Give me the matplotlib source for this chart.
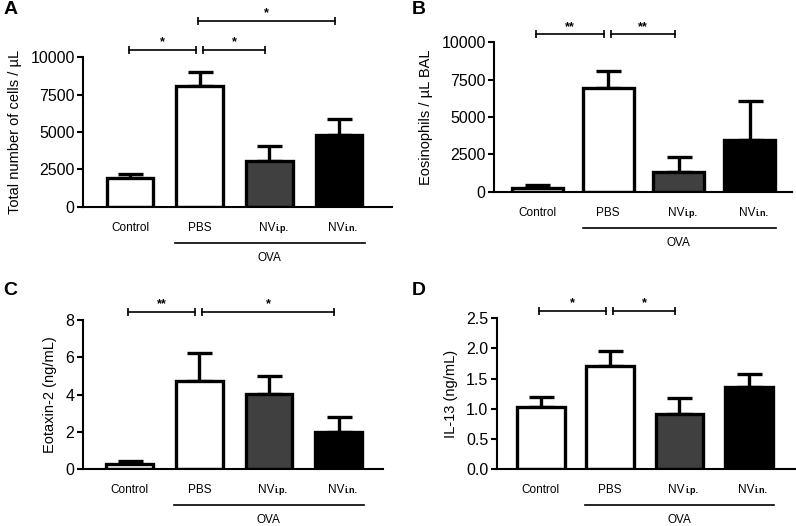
import matplotlib
matplotlib.use("Agg")
import matplotlib.pyplot as plt
import matplotlib.transforms as mtransforms

plt.rcParams['font.family'] = ['Liberation Sans', 'DejaVu Sans']

# ---- data ----
groups = ['Control', 'PBS', 'NV', 'NV']
group_suffix = ['', '', 'i.p.', 'i.n.']
bar_colors = ['white', 'white', '#404040', 'black']

total_cells = [1950, 8050, 3080, 4780]
total_cells_sem = [250, 950, 980, 1100]

eosinophils = [230, 6950, 1350, 3450]
eosinophils_sem = [250, 1100, 950, 2600]

eotaxin2 = [0.30, 4.72, 4.05, 2.0]
eotaxin2_sem = [0.15, 1.5, 0.95, 0.8]

il13 = [1.02, 1.71, 0.91, 1.355]
il13_sem = [0.18, 0.25, 0.27, 0.215]

# significance comparisons: (group i, group j, label, bracket height)
sig_a = [(0, 1, '*', 10500), (1, 2, '*', 10500), (1, 3, '*', 12400)]
sig_b = [(0, 1, '**', 10550), (1, 2, '**', 10550)]
sig_c = [(0, 1, '**', 8.45), (1, 3, '*', 8.45)]
sig_d = [(0, 1, '*', 2.62), (1, 2, '*', 2.62)]

fig = plt.figure(figsize=(7.96, 5.26), dpi=100)


def panel(rect, values, errs, ylabel, yticks, ytlabels, sigs, letter, letter_xy,
          xlim, width):
    ax = fig.add_axes(rect)
    x = list(range(len(groups)))
    ax.bar(x, values, width=width, color=bar_colors, edgecolor='black',
           linewidth=2.4, zorder=2)
    # upper-only error bars
    ax.errorbar(x, values, yerr=[[0] * len(errs), errs], fmt='none',
                ecolor='black', elinewidth=2.4, capsize=9, capthick=2.4, zorder=1)
    ax.set_xlim(*xlim)
    ax.set_ylim(yticks[0], yticks[-1])
    ax.set_yticks(yticks)
    ax.set_yticklabels(ytlabels, fontsize=11.5)
    ax.set_xticks(x)
    ax.set_xticklabels([])
    ax.tick_params(axis='x', length=0)
    ax.tick_params(axis='y', length=4, width=1.5, pad=2)
    ax.set_ylabel(ylabel, fontsize=10.5, labelpad=6)
    for s in ['top', 'right']:
        ax.spines[s].set_visible(False)
    for s in ['left', 'bottom']:
        ax.spines[s].set_linewidth(1.5)

    # category labels, with the small route suffix after "NV"
    lab_tr = ax.get_xaxis_transform() + mtransforms.ScaledTranslation(
        0, -0.24, fig.dpi_scale_trans)
    for xi, name, suf in zip(x, groups, group_suffix):
        if suf:
            ax.text(xi + 0.08, 0, name, transform=lab_tr, ha='right',
                    va='baseline', fontsize=8.5)
            ax.text(xi + 0.08, 0, suf, transform=lab_tr, ha='left',
                    va='baseline', fontsize=6.5, fontweight='bold')
        else:
            ax.text(xi, 0, name, transform=lab_tr, ha='center', va='baseline',
                    fontsize=8.5)

    # significance brackets
    prev_end = None
    for i, j, lab, h in sigs:
        x1 = i + (0.04 if prev_end == i else -0.02)
        x2 = j - 0.06
        ax.plot([x1, x2], [h, h], color='black', lw=1.2, clip_on=False)
        ax.plot([x1, x2], [h, h], ls='none', marker='|', ms=5.5, mew=1.2,
                color='black', clip_on=False)
        ax.annotate(lab, xy=((x1 + x2) / 2, h), xytext=(0, 1),
                    textcoords='offset points', ha='center', va='bottom',
                    fontsize=9, fontweight='bold', annotation_clip=False)
        prev_end = j

    # OVA group line below tick labels
    line_tr = ax.get_xaxis_transform() + mtransforms.ScaledTranslation(
        0, -0.36, fig.dpi_scale_trans)
    ax.plot([0.64, 3.37], [0, 0], color='black', lw=1.2, transform=line_tr,
            clip_on=False)
    txt_tr = ax.get_xaxis_transform() + mtransforms.ScaledTranslation(
        0, -0.51, fig.dpi_scale_trans)
    ax.text(2.0, 0, 'OVA', transform=txt_tr, ha='center', va='center',
            fontsize=8.5)

    fig.text(letter_xy[0], letter_xy[1], letter, fontsize=14, fontweight='bold',
             ha='left', va='center')
    return ax


panel([0.1043, 0.6065, 0.3882, 0.2851], total_cells, total_cells_sem,
      'Total number of cells / µL', [0, 2500, 5000, 7500, 10000],
      ['0', '2500', '5000', '7500', '10000'], sig_a, 'A', (0.004, 0.981),
      (-0.676, 3.76), 0.67)

panel([0.6206, 0.6356, 0.3744, 0.2840], eosinophils, eosinophils_sem,
      'Eosinophils / µL BAL', [0, 2500, 5000, 7500, 10000],
      ['0', '2500', '5000', '7500', '10000'], sig_b, 'B', (0.517, 0.981),
      (-0.615, 3.6), 0.72)

panel([0.1039, 0.1078, 0.3773, 0.2838], eotaxin2, eotaxin2_sem,
      'Eotaxin-2 (ng/mL)', [0, 2, 4, 6, 8],
      ['0', '2', '4', '6', '8'], sig_c, 'C', (0.004, 0.447),
      (-0.676, 3.64), 0.67)

panel([0.6240, 0.1084, 0.3750, 0.2865], il13, il13_sem,
      'IL-13 (ng/mL)', [0, 0.5, 1.0, 1.5, 2.0, 2.5],
      ['0.0', '0.5', '1.0', '1.5', '2.0', '2.5'], sig_d, 'D', (0.517, 0.447),
      (-0.636, 3.67), 0.69)

fig.savefig('out.png', dpi=100)
